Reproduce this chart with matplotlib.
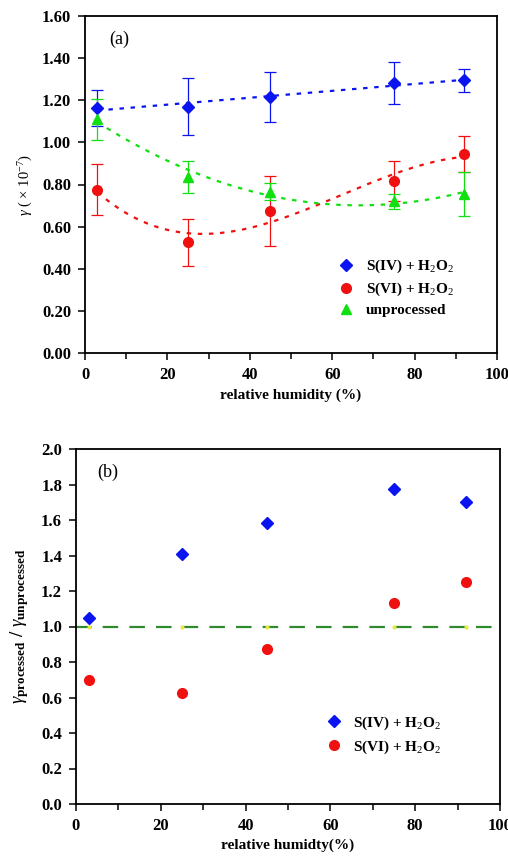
import numpy as np
import matplotlib
matplotlib.use("Agg")
import matplotlib.pyplot as plt
from matplotlib.ticker import MultipleLocator, FormatStrFormatter

plt.rcParams['font.family'] = ['Liberation Serif', 'DejaVu Serif']
plt.rcParams['mathtext.fontset'] = 'custom'
plt.rcParams['mathtext.rm'] = 'Liberation Serif'
plt.rcParams['mathtext.it'] = 'Liberation Serif:italic'
plt.rcParams['mathtext.bf'] = 'Liberation Serif:bold'

rh = [3, 25, 45, 75, 92]

# panel (a): uptake coefficient (x 1e-7)
s4_gamma = [1.165, 1.17, 1.215, 1.28, 1.295]
s4_err = [0.085, 0.135, 0.118, 0.10, 0.055]
s6_gamma = [0.775, 0.525, 0.675, 0.815, 0.945]
s6_err = [0.12, 0.11, 0.165, 0.095, 0.085]
un_gamma = [1.11, 0.835, 0.765, 0.72, 0.755]
un_err = [0.097, 0.075, 0.04, 0.035, 0.105]

# panel (b): ratio processed / unprocessed
s4_ratio = [1.05, 1.41, 1.585, 1.775, 1.70]
s6_ratio = [0.70, 0.625, 0.875, 1.135, 1.25]
un_ratio = [1.0, 1.0, 1.0, 1.0, 1.0]

BLUE = '#0a14f0'
RED = '#f01010'
GREEN = '#10e010'

fig = plt.figure(figsize=(5.08, 8.56), dpi=100)
ax1 = fig.add_axes([85 / 508, 1 - 353 / 856, 412 / 508, 337 / 856])
ax2 = fig.add_axes([76 / 508, 1 - 804 / 856, 424 / 508, 355 / 856])

xs = np.linspace(rh[0], rh[-1], 200)
series = [
    (s4_gamma, s4_err, BLUE, 'D', 6, 'S(IV) + H$_2$O$_2$', 1),
    (s6_gamma, s6_err, RED, 'o', 7, 'S(VI) + H$_2$O$_2$', 3),
    (un_gamma, un_err, GREEN, '^', 7.5, 'unprocessed', 2),
]
for vals, err, col, mk, ms, lab, deg in series:
    ax1.errorbar(rh, vals, yerr=err, fmt='none', ecolor=col, elinewidth=0.9,
                 capsize=4.5, capthick=0.9, zorder=2)
    coef = np.polyfit(rh, vals, deg)
    ax1.plot(xs, np.polyval(coef, xs), color=col, lw=1.6, ls=(0, (2, 3)), zorder=1)
    ax1.plot(rh, vals, ls='none', marker=mk, ms=ms, color=col, label=lab, zorder=3)

ax1.set_xlim(0, 100)
ax1.set_ylim(0, 1.6)
ax1.xaxis.set_major_locator(MultipleLocator(20))
ax1.xaxis.set_minor_locator(MultipleLocator(10))
ax1.yaxis.set_major_locator(MultipleLocator(0.2))
ax1.yaxis.set_major_formatter(FormatStrFormatter('%.2f'))
ax1.set_xlabel('relative humidity (%)', fontsize=11, fontweight='bold', labelpad=4)
ax1.set_ylabel(r'$\gamma$ ( $\times$ 10$^{-7}$)', fontsize=10.5, labelpad=5)
ax1.text(0.06, 0.955, '(a)', transform=ax1.transAxes, fontsize=13, va='top')
ax1.legend(loc='upper left', bbox_to_anchor=(0.6, 0.30), frameon=False,
           prop={'weight': 'bold', 'size': 11}, handletextpad=0.8, labelspacing=0.35,
           handlelength=1.0, borderaxespad=0)

ax2.axhline(1.0, color='#2e8b2e', lw=1.6, ls=(0, (7, 5)), zorder=1)
ax2.plot(rh, un_ratio, ls='none', marker='o', ms=2, color='#e8e840', zorder=2)
ax2.plot(rh, s4_ratio, ls='none', marker='D', ms=6, color=BLUE, label='S(IV) + H$_2$O$_2$', zorder=3)
ax2.plot(rh, s6_ratio, ls='none', marker='o', ms=7, color=RED, label='S(VI) + H$_2$O$_2$', zorder=3)
ax2.set_xlim(0, 100)
ax2.set_ylim(0, 2.0)
ax2.xaxis.set_major_locator(MultipleLocator(20))
ax2.xaxis.set_minor_locator(MultipleLocator(10))
ax2.yaxis.set_major_locator(MultipleLocator(0.2))
ax2.yaxis.set_major_formatter(FormatStrFormatter('%.1f'))
ax2.set_xlabel('relative humidty(%)', fontsize=11, fontweight='bold', labelpad=3)
ax2.set_ylabel(r'$\gamma_{\mathbf{processed}}$ / $\gamma_{\mathbf{unprocessed}}$',
               fontsize=13.5, fontweight='bold', labelpad=7)
ax2.text(0.05, 0.96, '(b)', transform=ax2.transAxes, fontsize=13, va='top')
ax2.legend(loc='upper left', bbox_to_anchor=(0.575, 0.27), frameon=False,
           prop={'weight': 'bold', 'size': 11}, handletextpad=0.8, labelspacing=0.45,
           handlelength=1.0, borderaxespad=0)

for ax in (ax1, ax2):
    for sp in ax.spines.values():
        sp.set_linewidth(1.3)
    ax.tick_params(which='both', direction='out', top=False, right=False,
                   labelsize=12, width=1.1)
    ax.tick_params(which='major', length=5, pad=5)
    ax.tick_params(which='minor', length=4)
    for lbl in ax.get_xticklabels() + ax.get_yticklabels():
        lbl.set_fontweight('bold')

fig.savefig('out.png', dpi=100)
